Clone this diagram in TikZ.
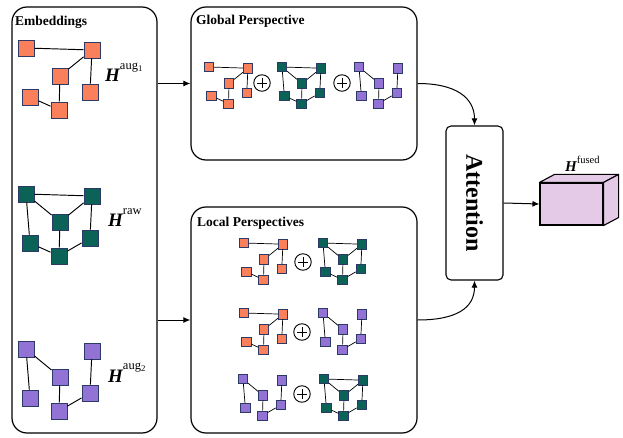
\documentclass[tikz,border=0pt]{standalone}
\usepackage{fontspec}
\setmainfont{Liberation Serif}
\usepackage{graphicx}
\usetikzlibrary{arrows.meta,positioning}
\definecolor{augA}{HTML}{F9805A}
\definecolor{rawC}{HTML}{0A6356}
\definecolor{augB}{HTML}{9372D6}
\definecolor{rim}{HTML}{2E3A66}
\definecolor{fusedC}{HTML}{E4CAE6}
\begin{document}
\begin{tikzpicture}
  [x=1pt,y=-1pt,every node/.style={inner sep=0pt},
   panel/.style={draw,line width=1.2pt,rounded corners=15pt},
   sq/.style={draw=rim,rectangle},
   flow/.style={line width=1pt,-{Latex[length=7pt,width=6pt]}}]
  \tikzstyle{title} = [anchor=base west,font=\fontsize{13.5}{15}\selectfont\bfseries]
  \tikzstyle{hlab} = [anchor=base west,font=\fontsize{19}{20}\selectfont\bfseries\itshape]
  \tikzstyle{oplus} = [circle,draw,line width=.9pt,minimum size=16.5pt,
    path picture={\draw[line width=.9pt]
      ([xshift=-4.8pt]path picture bounding box.center) -- ([xshift=4.8pt]path picture bounding box.center)
      ([yshift=-4.8pt]path picture bounding box.center) -- ([yshift=4.8pt]path picture bounding box.center);}]
  \useasboundingbox (0,0) rectangle (623,438);
  % panels
  \node[panel,minimum width=145,minimum height=426] (emb) at (84.5,220) {};
  \node[panel,minimum width=226,minimum height=153] (glob) at (304,83.5) {};
  \node[panel,minimum width=226,minimum height=226] (loc) at (304,320) {};
  \node[title] (tEmb) at (15,26) {Embeddings};
  \node[title] (tGlob) at (196,25) {Global Perspective};
  \node[title] (tLoc) at (197,226) {Local Perspectives};
  % orange graphs (aug 1)
  \foreach \g/\gx/\gy/\s in {Eo/26/48/1,Go/209/67/.59,Lo1/244/243/.59,Lo2/244/313/.59} {
    \foreach \n/\dx/\dy in {a/0/0,b/66/2,c/34/28,d/64/44,e/4/49,f/33/62}
      \node[sq,fill=augA,line width={.3+.6*\s},minimum size={16*\s}] (\g\n) at ({\gx+\s*\dx},{\gy+\s*\dy}) {};
    \foreach \u/\v in {a/b,b/c,b/d,c/f,e/f}
      \draw[line width={.35+.6*\s}] (\g\u) -- (\g\v);
  }
  % teal graphs (raw)
  \foreach \g/\gx/\gy/\s in {Et/26/194/1,Gt/282/67/.59,Lt1/323/243/.59,Lt3/324/379/.59} {
    \foreach \n/\dx/\dy in {a/0/0,b/66/2,c/34/28,d/64/44,e/4/49,f/33/62}
      \node[sq,fill=rawC,line width={.3+.6*\s},minimum size={16*\s}] (\g\n) at ({\gx+\s*\dx},{\gy+\s*\dy}) {};
    \foreach \u/\v in {a/b,a/c,b/c,b/d,a/e,c/f,e/f,d/f}
      \draw[line width={.35+.6*\s}] (\g\u) -- (\g\v);
  }
  % purple graphs (aug 2)
  \foreach \g/\gx/\gy/\s in {Ep/26/349/1,Gp/359/67/.59,Lp2/323/313/.59,Lp3/243/379/.59} {
    \foreach \n/\dx/\dy in {a/0/0,b/66/2,c/34/28,d/64/44,e/4/49,f/33/62}
      \node[sq,fill=augB,line width={.3+.6*\s},minimum size={16*\s}] (\g\n) at ({\gx+\s*\dx},{\gy+\s*\dy}) {};
    \foreach \u/\v in {a/c,a/e,c/f,f/d,d/b}
      \draw[line width={.35+.6*\s}] (\g\u) -- (\g\v);
  }
  \node[hlab] (hAugA) at (105,82) {H\raisebox{12.5pt}{\normalfont\fontsize{12.5}{13}\selectfont aug\textsubscript{1}}};
  \node[hlab] (hRaw) at (108,227) {H\raisebox{12.5pt}{\normalfont\fontsize{12.5}{13}\selectfont raw}};
  \node[hlab] (hAugB) at (108,382) {H\raisebox{12.5pt}{\normalfont\fontsize{12.5}{13}\selectfont aug\textsubscript{2}}};
  % plus signs
  \foreach \p/\px/\py in {pg1/262/83,pg2/342/83,pl1/303/262,pl2/302/332,pl3/302/394}
    \node[oplus] (\p) at (\px,\py) {};
  % attention and fused output
  \node[draw,line width=1.1pt,rounded corners=5pt,minimum width=57,minimum height=154,
        font=\fontsize{24}{24}\selectfont\bfseries] (att) at (474.5,203) {\rotatebox{-90}{Attention}};
  \node[draw,fill=fusedC,line width=1.1pt,minimum width=63,minimum height=42] (fus) at (571.5,204) {};
  \draw[line width=1.1pt,fill=fusedC,line join=round] (fus.north west) -- ++(15,-8)
    -- ([shift={(15,-8)}]fus.north east) -- (fus.north east) -- cycle;
  \draw[line width=1.1pt,fill=fusedC,line join=round] (fus.north east) -- ++(15,-8)
    -- ([shift={(15,-8)}]fus.south east) -- (fus.south east) -- cycle;
  \node[hlab,font=\fontsize{15}{16}\selectfont\bfseries\itshape] (hFus) at (565,172)
    {H\raisebox{8pt}{\normalfont\fontsize{10.5}{11}\selectfont fused}};
  % arrows
  \draw[flow] (emb.east |- glob.west) -- (glob.west);
  \draw[flow] (emb.east |- loc.west) -- (loc.west);
  \draw[flow] (glob.east) .. controls +(38,0) and +(0,-28) .. (att.north);
  \draw[flow] (loc.east) .. controls +(38,0) and +(0,28) .. (att.south);
  \draw[flow] (att.east) -- (fus.west);
\end{tikzpicture}
\end{document}
